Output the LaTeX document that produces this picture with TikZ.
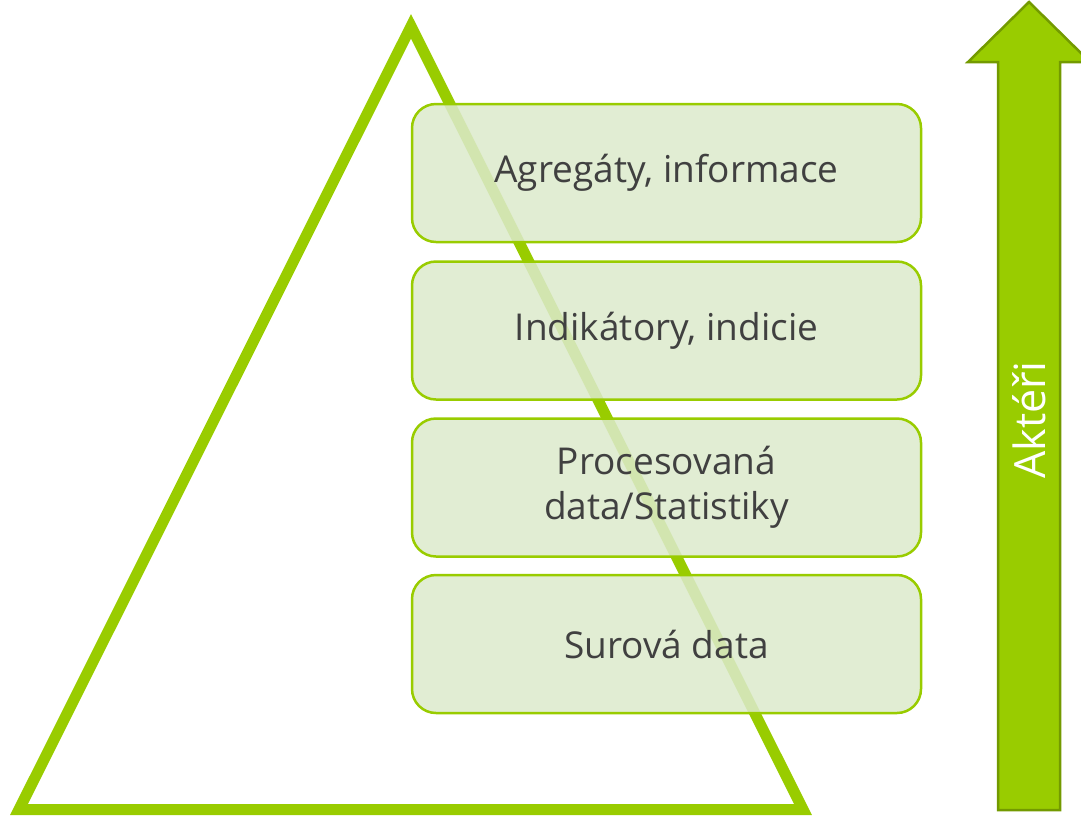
\documentclass[tikz,border=0pt]{standalone}
\usepackage{fontspec}
\setmainfont{Open Sans}
\definecolor{lgreen}{RGB}{153,204,0}
\definecolor{dgreen}{RGB}{115,154,0}
\definecolor{boxfill}{RGB}{220,234,204}
\definecolor{txt}{RGB}{64,64,64}
\tikzset{
  layer/.style={draw=lgreen, line width=2.5pt, fill=boxfill, fill opacity=0.86,
    text opacity=1, rounded corners=24pt, minimum width=509pt, minimum height=138pt,
    text=txt, font=\fontsize{37}{45}\selectfont, align=center, inner sep=0pt},
  pyr/.style={draw=lgreen, line width=11pt, miter limit=10},
  bigarrow/.style={fill=lgreen, draw=dgreen, line width=2.5pt, line join=miter}
}
\begin{document}
\begin{tikzpicture}[x=1pt,y=-1pt]
\useasboundingbox (0,0) rectangle (1081,815);
% pyramid
\coordinate (apex) at (411,26.3);
\coordinate (bl) at (19,809.5);
\coordinate (br) at (803,809.5);
\draw[pyr] (apex) -- (br) -- (bl) -- cycle;
% layers
\node[layer] (l1) at (666.5,173) {Agregáty, informace};
\node[layer] (l2) at (666.5,330.5) {Indikátory, indicie};
\node[layer] (l3) at (666.5,487.5) {Procesovaná\\data/Statistiky};
\node[layer] (l4) at (666.5,644) {Surová data};
% arrow
\draw[bigarrow] (998,810) -- (998,62) -- (968,62) -- (1029,2) -- (1090,62) -- (1060,62) -- (1060,810) -- cycle;
\node[rotate=90, text=white, font=\fontsize{43}{45}\selectfont, inner sep=0pt] (akt) at (1029,420) {Aktéři};
\end{tikzpicture}
\end{document}
